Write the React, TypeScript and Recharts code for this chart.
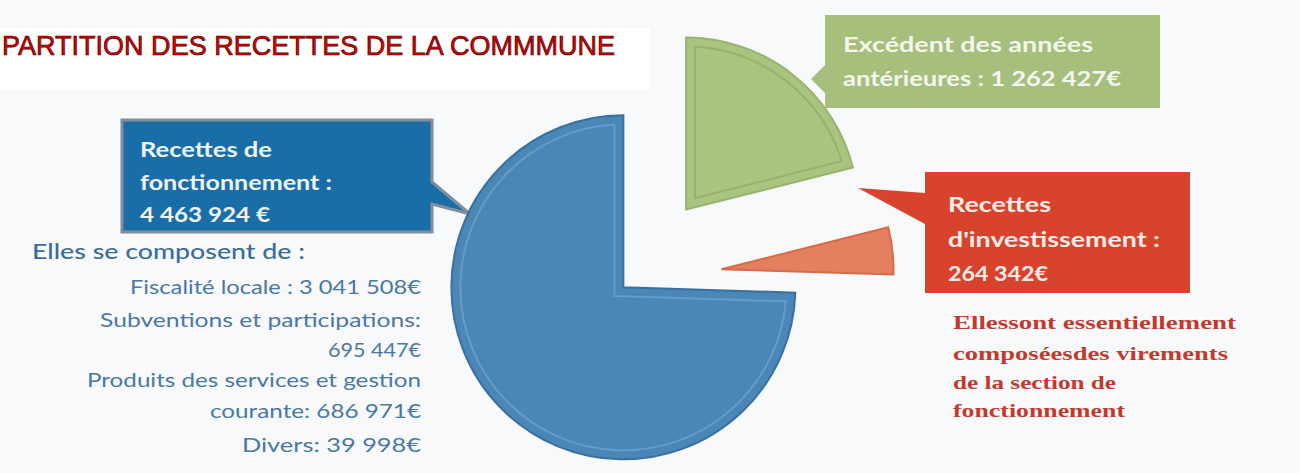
import { PieChart, Pie, Sector } from 'recharts';

// parts du budget (sens horaire depuis midi)
const sliceNames = ['Excédent des années antérieures', "Recettes d'investissement", 'Recettes de fonctionnement'];
const sliceValues = [1262427, 264342, 4463924];

// détail des recettes de fonctionnement
const detailLines = [
  'Fiscalité  locale : 3 041 508€',
  'Subventions et participations:',
  '695 447€',
  'Produits des services et gestion',
  'courante: 686 971€',
  'Divers:  39 998€',
];

const investNote = ['Ellessont  essentiellement', 'composéesdes virements', 'de la section de', 'fonctionnement'];

const FILL = ['#a9c47f', '#e4805f', '#4a87b6'];
const EDGE = ['#98b36d', '#d66a4b', '#3a70a0'];
const BEVEL = ['#93ad68', '#e4805f', '#6ca0ca'];
const EXPLODE = [88, 90, 12];

const data = sliceNames.map((name, i) => ({ name, value: sliceValues[i] }));

const RAD = Math.PI / 180;
const polar = (cx: number, cy: number, r: number, a: number) => ({
  x: cx + r * Math.cos(-a * RAD),
  y: cy + r * Math.sin(-a * RAD),
});

// dessine la part décalée (effet "éclaté") + un liseré intérieur
function ExplodedSlice(props: any) {
  const { cx, cy, outerRadius, startAngle, endAngle, index } = props;
  const mid = (startAngle + endAngle) / 2;
  const off = polar(0, 0, EXPLODE[index], mid);
  const x = cx + off.x;
  const y = cy + off.y;
  const span = Math.abs(startAngle - endAngle);

  let bevel = null;
  if (span > 30) {
    const inset = 9;
    const r2 = outerRadius - inset;
    const half = Math.min(span, 360 - span) / 2;
    const d = inset / Math.sin(half * RAD);
    const delta = Math.asin(inset / r2) / RAD;
    const v = polar(x, y, d, mid);
    const a = polar(x, y, r2, startAngle - delta);
    const b = polar(x, y, r2, endAngle + delta);
    const large = span - 2 * delta > 180 ? 1 : 0;
    bevel = (
      <path
        d={`M${v.x},${v.y} L${a.x},${a.y} A${r2},${r2} 0 ${large} 1 ${b.x},${b.y} Z`}
        fill="none"
        stroke={BEVEL[index]}
        strokeWidth={2}
        strokeOpacity={0.8}
      />
    );
  }

  return (
    <g>
      <Sector
        cx={x}
        cy={y}
        innerRadius={0}
        outerRadius={outerRadius}
        startAngle={startAngle}
        endAngle={endAngle}
        fill={FILL[index]}
        stroke={EDGE[index]}
        strokeWidth={2}
      />
      {bevel}
    </g>
  );
}

const boxFont = { fontFamily: 'Lato, "Open Sans", sans-serif', fontWeight: 700, fontSize: 20 };

export default function App() {
  return (
    <div style={{ width: 1300, height: 473 }}>
      <style>{'body{margin:0}'}</style>
      <PieChart width={1300} height={473} margin={{ top: 0, right: 0, bottom: 0, left: 0 }}>
        <rect x={0} y={0} width={1300} height={473} fill="#f8f9fb" />
        <rect x={0} y={28} width={650} height={62} fill="#ffffff" />
        <text
          x={2}
          y={55}
          textLength={613}
          lengthAdjust="spacingAndGlyphs"
          fontFamily='"Liberation Sans Narrow", "Liberation Sans", Arial, sans-serif'
          fontSize={28}
          fill="#e00000"
          stroke="#3a0000"
          strokeWidth={0.7}
        >
          PARTITION DES RECETTES DE LA COMMMUNE
        </text>

        <Pie
          data={data}
          dataKey="value"
          nameKey="name"
          cx={632}
          cy={279}
          innerRadius={0}
          outerRadius={172}
          startAngle={90}
          endAngle={-270}
          fill="none"
          stroke="none"
          labelLine={false}
          label={ExplodedSlice}
          isAnimationActive={false}
        />

        {/* bulle bleue */}
        <path d="M122,120 H432 V182 L470,214 L432,204 V232 H122 Z" fill="#1a6ea8" stroke="#7f8fa0" strokeWidth={3} />
        <g {...boxFont} fill="#eef3f8">
          <text x={140} y={157} textLength={132} lengthAdjust="spacingAndGlyphs">Recettes de</text>
          <text x={140} y={190} textLength={192} lengthAdjust="spacingAndGlyphs">fonctionnement :</text>
          <text x={140} y={222} textLength={130} lengthAdjust="spacingAndGlyphs">4 463 924 €</text>
        </g>

        {/* bulle verte */}
        <path d="M825,15 H1160 V108 H825 V93 L811,79 L825,65 Z" fill="#a6bf7c" />
        <g {...boxFont} fill="#f4f7ee">
          <text x={843} y={52} textLength={250} lengthAdjust="spacingAndGlyphs">Excédent des années</text>
          <text x={843} y={86} textLength={278} lengthAdjust="spacingAndGlyphs">antérieures : 1 262 427€</text>
        </g>

        {/* bulle rouge */}
        <path d="M925,172 H1190 V293 H925 V224 L858,188 L925,193 Z" fill="#d8432e" />
        <g {...boxFont} fill="#fbece8">
          <text x={948} y={212} textLength={103} lengthAdjust="spacingAndGlyphs">Recettes</text>
          <text x={948} y={247} textLength={212} lengthAdjust="spacingAndGlyphs">d'investissement :</text>
          <text x={948} y={281} textLength={100} lengthAdjust="spacingAndGlyphs">264 342€</text>
        </g>

        {/* détail fonctionnement */}
        <text x={32} y={259} textLength={273} lengthAdjust="spacingAndGlyphs" fontFamily='Lato, "Open Sans", sans-serif' fontWeight={500} fontSize={22} fill="#3c6d99">
          Elles se composent de :
        </text>
        {detailLines.map((line, i) => (
          <text
            key={line}
            x={421}
            y={[294, 327, 357, 387, 418, 452][i]}
            textAnchor="end"
            textLength={[291, 321, 93, 334, 211, 179][i]}
            lengthAdjust="spacingAndGlyphs"
            fontFamily='Lato, "Open Sans", sans-serif'
            fontSize={19}
            fill="#4a78a3"
          >
            {line}
          </text>
        ))}

        {/* note investissement */}
        {investNote.map((line, i) => (
          <text
            key={line}
            x={953}
            y={[329, 360, 389, 417][i]}
            textLength={[283, 275, 163, 172][i]}
            lengthAdjust="spacingAndGlyphs"
            fontFamily='"Liberation Serif", "DejaVu Serif", serif'
            fontWeight={700}
            fontSize={19}
            fill="#c23a2e"
          >
            {line}
          </text>
        ))}
      </PieChart>
    </div>
  );
}
